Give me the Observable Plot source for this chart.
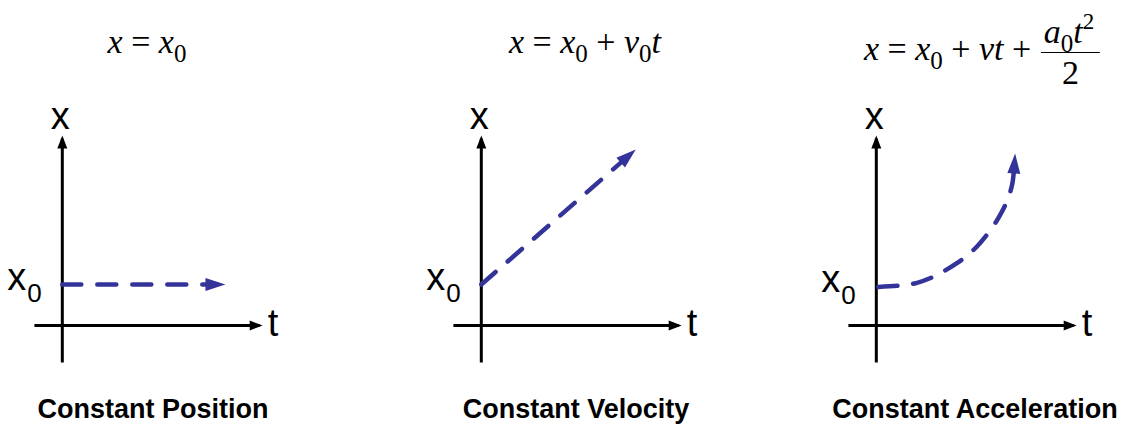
<!DOCTYPE html>
<html>
<head>
<meta charset="utf-8">
<script src="https://cdn.jsdelivr.net/npm/d3@7"></script>
<script src="https://cdn.jsdelivr.net/npm/@observablehq/plot@0.6"></script>
<style>
  html, body { margin: 0; padding: 0; background: #fff; }
  #wrap { position: relative; width: 1130px; height: 427px; overflow: hidden; background: #fff; }
  #equations { position: relative; width: 1130px; height: 95px; font-family: "Liberation Serif", "Times New Roman", serif; font-size: 34px; color: #000; }
  .eq { position: absolute; white-space: nowrap; line-height: 34px; transform: translateX(-50%); }
  .eq i { font-style: italic; }
  .sub { font-size: 25px; vertical-align: -9px; line-height: 0; font-style: normal; }
  .sup { font-size: 23px; vertical-align: 14px; line-height: 0; font-style: normal; }
  .frac { display: inline-block; vertical-align: -25px; text-align: center; margin-left: 1px; }
  .num { display: block; border-bottom: 1.5px solid #000; padding: 0 6px 3px 3px; line-height: 34px; }
  .den { display: block; padding-top: 3.5px; line-height: 34px; }
  svg { display: block; }
</style>
</head>
<body>
<div id="wrap">
  <div id="equations"></div>
  <div id="chart"></div>
</div>
<script>
// ---- data ----
const panels = ["Constant Position", "Constant Velocity", "Constant Acceleration"];
const equations = [
  '<i>x</i> = <i>x</i><span class="sub">0</span>',
  '<i>x</i> = <i>x</i><span class="sub">0</span> + <i>v</i><span class="sub">0</span><i>t</i>',
  '<i>x</i> = <i>x</i><span class="sub">0</span> + <i>vt</i> + <span class="frac"><span class="num"><i>a</i><span class="sub">0</span><i>t</i><span class="sup">2</span></span><span class="den">2</span></span>'
];
const verticalLabel = "x";
const horizontalLabel = "t";
const startLabel = "x";
const startLabelSub = "0";

// axis extents (t and x units)
const tAxis = [-1.4, 9.9];
const xAxis = [-1.85, 9.35];

// motion curves (t, x)
const positionT = [0, 7.68];
const positionX = [2.05, 2.05];
const velocityT = [0, 7.37];
const velocityX = [2.05, 8.47];
const accelT = [0.1, 1.15, 2.0, 2.9, 3.65, 4.4, 5.05, 5.65, 6.15, 6.57, 6.82, 6.93];
const accelX = [1.93, 1.99, 2.12, 2.45, 2.87, 3.37, 3.95, 4.67, 5.42, 6.25, 7.08, 8.1];

// ---- layout ----
const eqCenter = [147, 585, 982];
const eqTop = [24.5, 24.5, 14.5];
const nudge = [0, 12, 0];
const captionShift = [-5, -1, 3];
const blue = "#333399";

const eqBox = document.getElementById("equations");
equations.forEach((html, i) => {
  const d = document.createElement("div");
  d.className = "eq";
  d.style.left = eqCenter[i] + "px";
  d.style.top = eqTop[i] + "px";
  d.innerHTML = html;
  eqBox.appendChild(d);
});

function head(len, half, ahead) {
  return (color, context) => {
    const doc = (context && context.document) || document;
    const ns = "http://www.w3.org/2000/svg";
    const m = doc.createElementNS(ns, "marker");
    m.setAttribute("viewBox", "-30 -15 60 30");
    m.setAttribute("markerWidth", 60);
    m.setAttribute("markerHeight", 30);
    m.setAttribute("refX", 0);
    m.setAttribute("refY", 0);
    m.setAttribute("markerUnits", "userSpaceOnUse");
    m.setAttribute("orient", "auto");
    m.setAttribute("overflow", "visible");
    const p = doc.createElementNS(ns, "path");
    p.setAttribute("d", `M${ahead - len},${-half}L${ahead},0L${ahead - len},${half}Z`);
    p.setAttribute("fill", color);
    p.setAttribute("stroke", "none");
    m.appendChild(p);
    return m;
  };
}

const motion = [
  {t: positionT, x: positionX, curve: "linear"},
  {t: velocityT, x: velocityX, curve: "linear"},
  {t: accelT, x: accelX, curve: "catmull-rom"}
];

function build(axisHead, motionHead) {
  const marks = panels.flatMap((panel, i) => {
    const row = [{panel, start: motion[i].x[0]}];
    const path = motion[i].t.map((t, j) => ({panel, t, x: motion[i].x[j]}));
    const o = {fx: "panel", dx: nudge[i]};
    return [
      Plot.link(row, {...o, x1: tAxis[0], x2: tAxis[1], y1: 0, y2: 0, stroke: "#000", strokeWidth: 3, markerEnd: axisHead}),
      Plot.link(row, {...o, x1: 0, x2: 0, y1: xAxis[0], y2: xAxis[1], stroke: "#000", strokeWidth: 3, markerEnd: axisHead}),
      Plot.line(path, {...o, x: "t", y: "x", stroke: blue, strokeWidth: 4.5, strokeDasharray: "19,16", curve: motion[i].curve, markerEnd: motionHead}),
      Plot.text(row, {...o, x: 0, y: xAxis[1], text: () => verticalLabel, fontSize: 38, textAnchor: "middle", lineAnchor: "bottom", dx: nudge[i] - 2, dy: -10}),
      Plot.text(row, {...o, x: tAxis[1], y: 0, text: () => horizontalLabel, fontSize: 38, textAnchor: "start", lineAnchor: "bottom", dx: nudge[i] + 8, dy: 10}),
      Plot.text(row, {...o, x: 0, y: "start", text: () => startLabel, fontSize: 38, textAnchor: "end", lineAnchor: "bottom", dx: nudge[i] - 36, dy: 5}),
      Plot.text(row, {...o, x: 0, y: "start", text: () => startLabelSub, fontSize: 26, textAnchor: "start", lineAnchor: "bottom", dx: nudge[i] - 35, dy: 17}),
      Plot.text(row, {...o, frameAnchor: "bottom", text: "panel", fontSize: 27, fontWeight: "bold", textAnchor: "middle", lineAnchor: "bottom", dx: nudge[i] + captionShift[i], dy: 30})
    ];
  });
  return Plot.plot({
    width: 1130,
    height: 332,
    marginLeft: 0,
    marginRight: 0,
    marginTop: 0,
    marginBottom: 40,
    style: {fontFamily: "'Liberation Sans', Arial, sans-serif", background: "#fff", color: "#000", overflow: "visible"},
    fx: {domain: panels, paddingInner: 0.23, paddingOuter: 0, axis: null, label: null},
    x: {domain: [-3.05, 12.65], axis: null},
    y: {domain: [-3.1, 11.5], axis: null},
    marks
  });
}

let chart;
try {
  chart = build(head(13, 5, 3), head(20, 6.5, 10));
} catch (e) {
  chart = build("arrow", "arrow");
}
document.getElementById("chart").appendChild(chart);
</script>
</body>
</html>
